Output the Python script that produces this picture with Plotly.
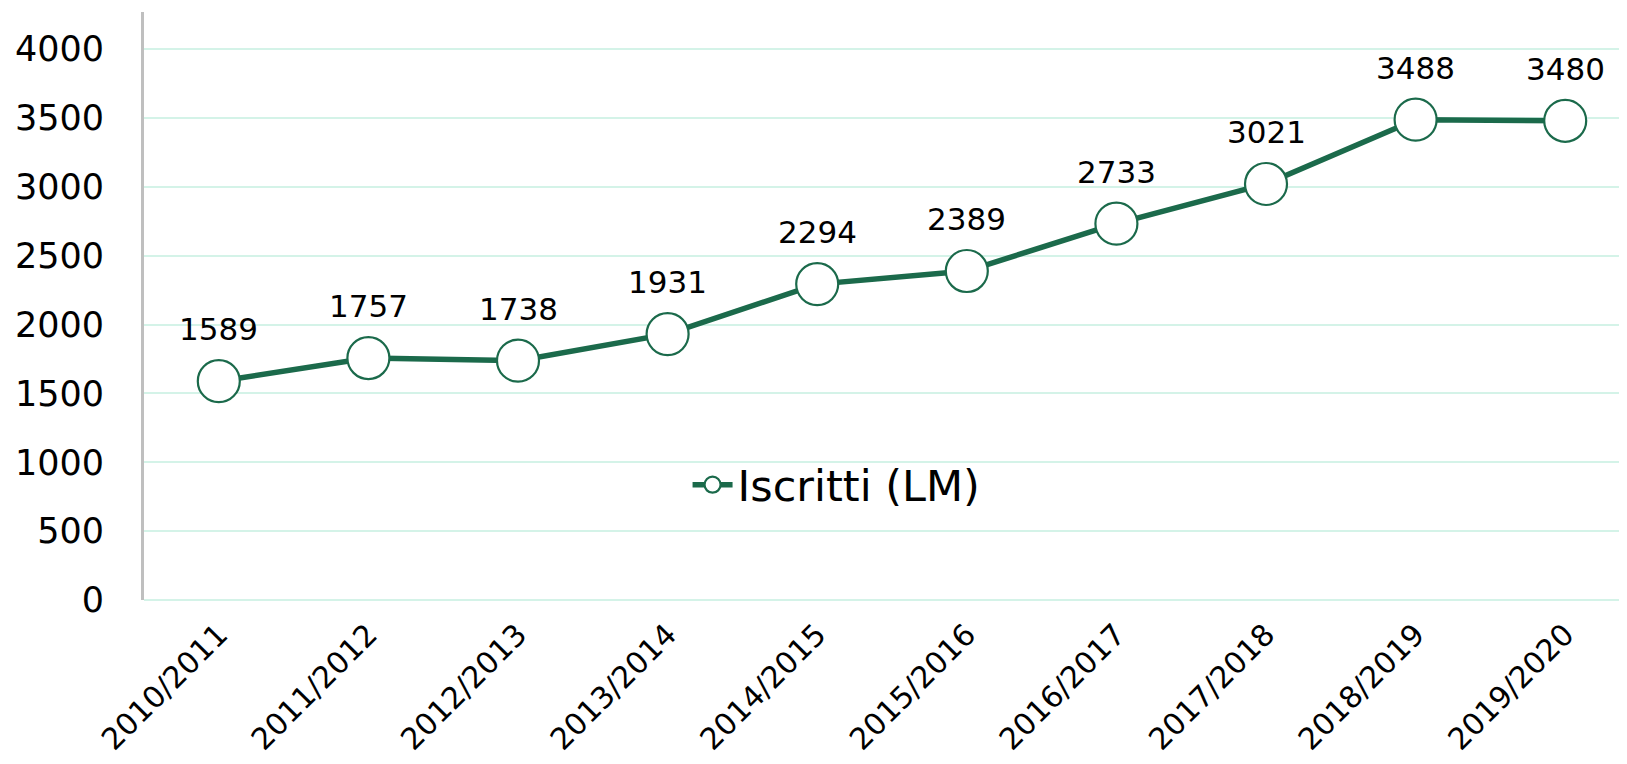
import plotly.graph_objects as go

categories = ["2010/2011", "2011/2012", "2012/2013", "2013/2014", "2014/2015",
              "2015/2016", "2016/2017", "2017/2018", "2018/2019", "2019/2020"]
iscritti = [1589, 1757, 1738, 1931, 2294, 2389, 2733, 3021, 3488, 3480]
series_name = "Iscritti (LM)"

GREEN = "#1B6A4B"
GRID = "#D4F3E8"
FONT = "DejaVu Sans"

fig = go.Figure()
fig.add_trace(go.Scatter(
    x=list(range(len(categories))), y=iscritti, name=series_name,
    mode="lines+markers",
    line=dict(color=GREEN, width=5.5),
    marker=dict(size=42, color="white", line=dict(color=GREEN, width=2.2)),
    hoverinfo="x+y",
))

annotations = [
    dict(x=i, y=v, text=str(v), showarrow=False, yshift=52, yanchor="middle",
         font=dict(family=FONT, size=31, color="black"))
    for i, v in enumerate(iscritti)
]

# the page body has an 8px default margin; compensate so the plot area lands
# at the same place as in the reference
fig.update_layout(
    width=1619, height=756,
    margin=dict(l=136, r=0, t=4, b=164),
    paper_bgcolor="white", plot_bgcolor="white",
    showlegend=True,
    legend=dict(x=0.467, y=0.196, xanchor="center", yanchor="middle",
                font=dict(family=FONT, size=43, color="black"),
                bgcolor="rgba(0,0,0,0)", itemwidth=40),
    annotations=annotations,
    xaxis=dict(
        range=[-0.5, 9.413], tickmode="array",
        tickvals=list(range(len(categories))), ticktext=categories,
        tickangle=-45, showgrid=False, zeroline=False, showline=False,
        tickfont=dict(family=FONT, size=30, color="black"),
        ticks="", fixedrange=True, automargin=False, ticklabelstandoff=10,
    ),
    yaxis=dict(
        range=[0, 4270], tickmode="linear", tick0=0, dtick=500,
        showgrid=True, gridcolor=GRID, gridwidth=1.5,
        zeroline=True, zerolinecolor=GRID, zerolinewidth=1.5,
        showline=True, linecolor="#BFBFBF", linewidth=3,
        tickfont=dict(family=FONT, size=35, color="black"),
        ticklabelstandoff=30, ticks="", fixedrange=True, automargin=False,
    ),
)

fig.write_html("out.html")
